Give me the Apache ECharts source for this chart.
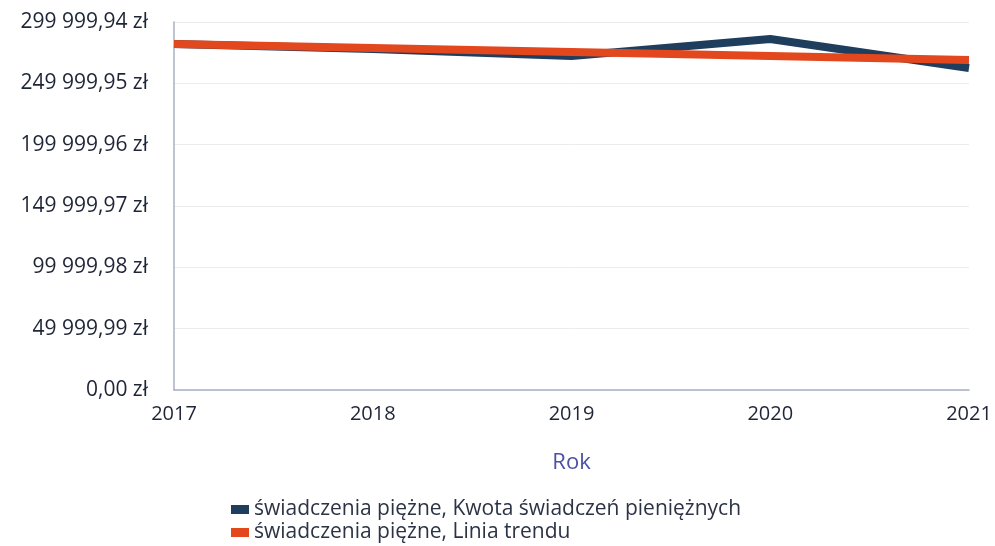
<!DOCTYPE html>
<html>
<head>
<meta charset="utf-8">
<script src="https://cdn.jsdelivr.net/npm/echarts@6/dist/echarts.min.js"></script>
<style>
  html, body { margin: 0; padding: 0; background: #fff; }
  #chart { width: 995px; height: 546px; }
</style>
</head>
<body>
<div id="chart"></div>
<script>
var years = ['2017', '2018', '2019', '2020', '2021'];
var kwota = [282100, 278000, 272300, 286100, 262500];
var trend = [282100, 278800, 275600, 272300, 269100];
var seriesNames = ['świadczenia piężne, Kwota świadczeń pieniężnych', 'świadczenia piężne, Linia trendu'];

function formatZl(v) {
    var s = Math.abs(v).toFixed(2).split('.');
    var i = s[0].replace(/\B(?=(\d{3})+(?!\d))/g, ' ');
    return (v < 0 ? '-' : '') + i + ',' + s[1] + ' zł';
}

var chart = echarts.init(document.getElementById('chart'));
var option = {
    animation: false,
    textStyle: { fontFamily: 'Open Sans' },
    grid: { left: 174, right: 26, top: 22, bottom: 156 },
    legend: {
        orient: 'vertical',
        left: 226,
        top: 494,
        height: 60,
        itemWidth: 18,
        itemHeight: 9,
        itemGap: 2,
        icon: 'rect',
        textStyle: { fontSize: 21, color: '#2b3345' },
        data: seriesNames
    },
    xAxis: {
        type: 'category',
        data: years,
        boundaryGap: false,
        name: 'Rok',
        nameLocation: 'middle',
        nameGap: 62,
        nameTextStyle: { fontSize: 22, color: '#4d4fa3' },
        axisLine: { lineStyle: { color: '#a9aec8', width: 1.5 } },
        axisTick: { show: false },
        axisLabel: { fontSize: 20, color: '#1e2536', margin: 14 },
        splitLine: { show: false }
    },
    yAxis: {
        type: 'value',
        min: 0,
        max: 299999.94,
        interval: 49999.99,
        axisLine: { show: true, lineStyle: { color: '#aab0c0', width: 1.5 } },
        axisTick: { show: false },
        axisLabel: {
            fontSize: 21, color: '#1e2536', margin: 26,
            formatter: function (v) { return formatZl(v); }
        },
        splitLine: { lineStyle: { color: '#ececec', width: 1 } }
    },
    series: [
        {
            name: seriesNames[0],
            type: 'line',
            data: kwota,
            symbol: 'none',
            lineStyle: { color: '#1f3d5c', width: 8 },
            itemStyle: { color: '#1f3d5c' }
        },
        {
            name: seriesNames[1],
            type: 'line',
            data: trend,
            symbol: 'none',
            lineStyle: { color: '#e2471d', width: 8 },
            itemStyle: { color: '#e2471d' }
        }
    ]
};
chart.setOption(option);
</script>
</body>
</html>
